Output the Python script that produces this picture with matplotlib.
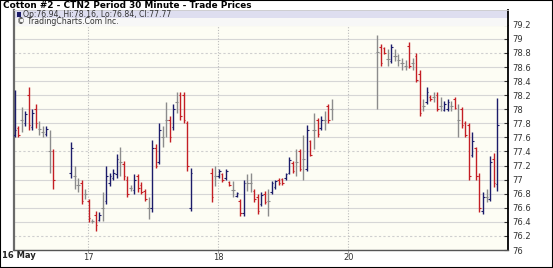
import matplotlib
matplotlib.use("Agg")
import matplotlib.pyplot as plt
from matplotlib.patches import Rectangle
import numpy as np

# 30 minute bars, x = bar slot (slot 0 = start of 16 May on the chart)
slot = list(range(0, 12)) + list(range(16, 51)) + list(range(56, 91)) + list(range(103, 138))

high = [78.28, 77.76, 78.03, 77.97, 78.32, 78.00, 78.08, 77.83, 77.76, 77.76, 77.71, 77.43,
        77.53, 77.19, 77.03, 77.00, 76.86, 76.72, 76.44, 76.55, 76.54, 76.82, 77.20, 77.10,
        77.15, 77.36, 77.47, 77.26, 77.05, 76.93, 77.08, 77.08, 76.96, 76.86, 76.75, 77.57,
        77.50, 77.81, 77.76, 78.10, 77.90, 78.07, 78.24, 78.25, 78.24, 77.83, 77.17,
        77.17, 77.19, 77.15, 77.10, 77.15, 76.98, 76.98, 76.82, 76.72, 77.00, 77.08, 77.10,
        76.86, 76.79, 76.82, 76.84, 76.86, 76.98, 77.00, 77.03, 77.03, 77.10, 77.32, 77.26,
        77.43, 77.43, 77.64, 77.78, 77.57, 77.95, 77.88, 77.90, 77.97, 78.07, 78.14,
        79.06, 78.92, 78.89, 78.85, 78.92, 78.85, 78.78, 78.73, 78.70, 78.96, 78.73, 78.80,
        78.56, 78.14, 78.31, 78.20, 78.24, 78.25, 78.17, 78.11, 78.14, 78.11, 78.17, 78.07,
        78.03, 77.83, 77.81, 77.67, 77.47, 77.10, 76.82, 76.86, 77.33, 77.38, 78.16]

low = [77.61, 77.61, 77.67, 77.76, 77.71, 77.71, 77.74, 77.64, 77.61, 77.62, 77.10, 76.86,
       77.03, 76.86, 76.82, 76.66, 76.72, 76.40, 76.38, 76.27, 76.41, 76.41, 76.65, 76.91,
       77.00, 77.03, 77.05, 77.00, 76.76, 76.84, 76.79, 76.82, 76.79, 76.69, 76.44, 76.54,
       77.17, 77.22, 77.47, 77.61, 77.54, 77.71, 77.95, 77.85, 77.81, 77.12, 76.55,
       76.68, 76.91, 77.03, 76.96, 77.00, 76.91, 76.75, 76.76, 76.48, 76.48, 76.84, 76.82,
       76.68, 76.51, 76.62, 76.65, 76.48, 76.79, 76.86, 76.93, 76.93, 77.00, 77.08, 77.10,
       77.05, 77.12, 77.00, 77.12, 77.33, 77.43, 77.61, 77.71, 77.71, 77.81, 77.85,
       78.00, 78.61, 78.78, 78.61, 78.66, 78.68, 78.61, 78.56, 78.56, 78.59, 78.56, 78.38,
       77.90, 77.97, 78.07, 78.12, 78.10, 77.97, 77.97, 77.97, 77.97, 77.97, 78.00, 77.61,
       77.74, 77.60, 77.00, 77.32, 77.00, 76.54, 76.51, 76.68, 76.69, 76.89, 76.84]

opn = [77.63, 77.74, 77.85, 77.80, 78.20, 77.75, 78.00, 77.72, 77.68, 77.65, 77.40, 77.40,
       77.10, 77.05, 76.92, 76.95, 76.80, 76.70, 76.41, 76.50, 76.43, 76.60, 76.70, 76.95,
       77.03, 77.08, 77.25, 77.22, 77.00, 76.88, 76.85, 77.05, 76.92, 76.84, 76.60, 76.60,
       77.45, 77.25, 77.60, 77.85, 77.85, 77.75, 78.10, 78.20, 78.20, 77.80, 76.60,
       77.10, 77.05, 77.05, 77.08, 77.02, 76.97, 76.85, 76.77, 76.70, 76.52, 76.95, 76.95,
       76.84, 76.75, 76.65, 76.80, 76.70, 76.82, 76.90, 77.00, 77.01, 77.02, 77.10, 77.24,
       77.25, 77.40, 77.30, 77.15, 77.55, 77.70, 77.85, 77.73, 77.85, 78.05, 78.00,
       78.82, 78.88, 78.87, 78.72, 78.68, 78.75, 78.70, 78.65, 78.62, 78.90, 78.65, 78.75,
       78.50, 78.05, 78.10, 78.18, 78.17, 78.20, 78.05, 77.99, 78.00, 78.05, 78.15, 77.85,
       78.00, 77.80, 77.78, 77.35, 77.45, 77.05, 76.55, 76.75, 76.72, 77.30, 76.94]

cls = [77.71, 77.64, 77.85, 77.93, 77.78, 77.95, 77.80, 77.72, 77.68, 77.72, 77.40, 77.00,
       77.45, 77.05, 76.92, 76.70, 76.80, 76.45, 76.41, 76.35, 76.50, 76.60, 77.05, 77.05,
       77.10, 77.30, 77.25, 77.05, 76.80, 76.88, 77.00, 76.88, 76.82, 76.72, 76.60, 77.45,
       77.20, 77.70, 77.60, 77.85, 77.60, 78.00, 78.10, 77.90, 77.85, 77.20, 77.10,
       76.75, 77.05, 77.12, 77.00, 77.12, 76.93, 76.85, 76.81, 76.52, 76.95, 76.95, 76.95,
       76.72, 76.55, 76.78, 76.68, 76.70, 76.95, 76.98, 76.95, 76.95, 77.08, 77.28, 77.12,
       77.25, 77.15, 77.30, 77.70, 77.35, 77.70, 77.65, 77.85, 77.85, 77.85, 78.00,
       78.82, 78.65, 78.80, 78.72, 78.88, 78.75, 78.70, 78.65, 78.62, 78.62, 78.65, 78.42,
       77.95, 78.05, 78.25, 78.14, 78.17, 78.00, 78.05, 78.08, 78.10, 78.05, 78.02, 77.85,
       77.78, 77.63, 77.05, 77.55, 77.05, 76.60, 76.75, 76.75, 77.25, 76.95, 77.77]

day_pos = [20.8, 57.8, 94.7]
day_labels = ["17", "18", "20"]
first_day = "16 May"
price_ticks = [76, 76.2, 76.4, 76.6, 76.8, 77, 77.2, 77.4, 77.6, 77.8, 78, 78.2, 78.4,
               78.6, 78.8, 79, 79.2]
last = "Op:76.94, Hi:78.16, Lo:76.84, Cl:77.77"

up_c = "#1c1c6a"
dn_c = "#c41e24"
nc_c = "#8c8c8c"

fig = plt.figure(figsize=(5.53, 2.68), dpi=100)
fig.patch.set_facecolor("white")
ax = fig.add_axes([14/553, 1-250/268, 494/553, 240/268])
ax.set_facecolor("#fdfdf4")

ax.set_xlim(-0.2, 140.1)
ax.set_ylim(76.0, 79.41)

# grid
for p in price_ticks:
    if p in (78.8, 77.4, 76.2):
        ax.axhline(p, color="#cfcfcf", lw=0.8, ls=(0, (2, 2)), zorder=1)
    else:
        ax.axhline(p, color="#d6d6d6", lw=0.8, zorder=1)
for d in day_pos:
    ax.axvline(d, color="#bdbdbd", lw=0.8, ls=(0, (1, 1.5)), zorder=1)

# OHLC bars
for x, h, l, o, c in zip(slot, high, low, opn, cls):
    if c > o:
        col = up_c
    elif c < o:
        col = dn_c
    else:
        col = nc_c
    ax.vlines(x, l, h, color=col, lw=1.0, zorder=3)
    ax.hlines(o, x - 0.45, x, color=col, lw=0.8, zorder=3)
    ax.hlines(c, x, x + 0.45, color=col, lw=0.8, zorder=3)

# legend band at the top
ax.add_patch(Rectangle((0, 0.968), 1, 0.032, transform=ax.transAxes,
                       facecolor="#dedef0", edgecolor="none", zorder=2))
ax.add_patch(Rectangle((0, 0.935), 1, 0.033, transform=ax.transAxes,
                       facecolor="#f7f7f7", edgecolor="none", zorder=2))
ax.add_patch(Rectangle((0.007, 0.969), 0.008, 0.024, transform=ax.transAxes,
                       facecolor="#1c1c6a", edgecolor="none", zorder=4))
ax.text(0.019, 0.983, last, transform=ax.transAxes, fontsize=5.6, color="#333333",
        va="center", ha="left", zorder=4)
ax.text(0.007, 0.951, "\u00a9 TradingCharts.Com Inc.", transform=ax.transAxes,
        fontsize=5.6, color="#333333", va="center", ha="left", zorder=4)

# axes
ax.yaxis.tick_right()
ax.set_yticks(price_ticks)
ax.set_yticklabels(["%g" % p for p in price_ticks], fontsize=6, color="#333333")
ax.tick_params(axis="y", direction="in", length=3, width=0.8, pad=3, color="#333333")
ax.set_xticks(day_pos)
ax.set_xticklabels(day_labels, fontsize=6, color="#333333")
ax.tick_params(axis="x", direction="out", length=2, width=0.6, pad=0.5, color="#999999")
fig.text(2/553, 1-256/268, first_day, fontsize=6, fontweight="bold", color="#222222",
         va="center", ha="left")

ax.spines["left"].set_color("#6a6a6a")
ax.spines["left"].set_linewidth(1.6)
ax.spines["bottom"].set_color("#555555")
ax.spines["bottom"].set_linewidth(1.0)
ax.spines["right"].set_color("black")
ax.spines["right"].set_linewidth(1.3)
ax.spines["top"].set_color("#cccccc")
ax.spines["top"].set_linewidth(0.6)

fig.text(3/553, 1-5.6/268, "Cotton #2 - CTN2 Period 30 Minute - Trade Prices",
         fontsize=6.4, fontweight="bold", va="center", ha="left", color="black")

fig.patches.append(Rectangle((0, 0), 1, 1, transform=fig.transFigure, fill=False,
                             edgecolor="black", lw=1.5))

fig.savefig("out.png", dpi=100)
